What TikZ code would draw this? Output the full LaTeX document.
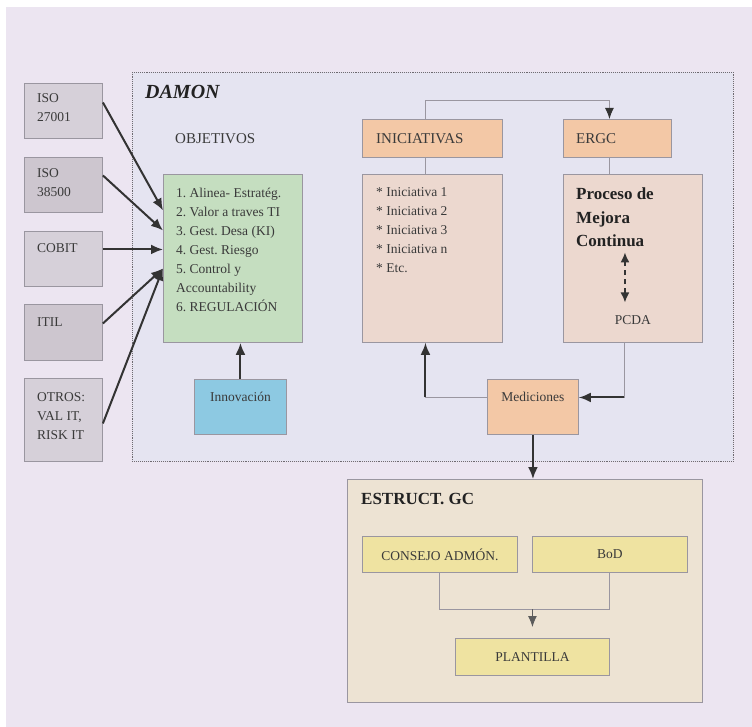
\documentclass[tikz,border=0pt]{standalone}
\usepackage{fontspec}
\setmainfont{Liberation Serif}
\usetikzlibrary{positioning,arrows.meta}

\definecolor{bgc}{HTML}{ECE5F1}
\definecolor{damonc}{HTML}{E5E4F1}
\definecolor{srcc}{HTML}{D6D0D9}
\definecolor{srcd}{HTML}{CDC6CF}
\definecolor{greenc}{HTML}{C5DEC0}
\definecolor{bluec}{HTML}{8DC9E2}
\definecolor{peachc}{HTML}{F3C8A6}
\definecolor{pinkc}{HTML}{ECD8CF}
\definecolor{beigec}{HTML}{EDE3D3}
\definecolor{yellowc}{HTML}{EFE3A1}
\definecolor{edgec}{HTML}{9A96A0}
\definecolor{dotc}{HTML}{6E6A70}
\definecolor{arrc}{HTML}{333333}
\definecolor{txtc}{HTML}{3A3A3A}
\definecolor{darkc}{HTML}{222222}

\frenchspacing

\begin{document}
\begin{tikzpicture}
  [x=1pt,y=-1pt,
   every node/.style={font=\fontsize{13.5}{19}\selectfont,text=txtc},
   box/.style={draw=edgec,line width=0.9pt,anchor=north west,inner sep=0pt},
   txt/.style={inner sep=0pt,anchor=north west,align=left},
   head/.style={font=\fontsize{15}{19}\selectfont},
   arr/.style={draw=arrc,line width=2pt,-{Latex[length=12pt,width=10pt]}},
   lnk/.style={draw=edgec,line width=1pt}]
  \useasboundingbox (0,0) rectangle (752,727);
  \fill[white] (0,0) rectangle (752,727);
  \fill[bgc] (6,7) rectangle (752,727);

  % DAMON frame
  \node[box,draw=dotc,densely dotted,fill=damonc,minimum width=601pt,minimum height=389pt] (damon) at (132,72) {};
  \node[txt,below right=13pt and 13pt of damon.north west,font=\fontsize{20}{24}\selectfont\bfseries\itshape,text=darkc] (damont) {DAMON};

  % sources
  \node[box,fill=srcc,minimum width=78pt,minimum height=55pt] (iso1) at (24,83) {};
  \node[box,fill=srcd,minimum width=78pt,minimum height=55pt] (iso2) at (24,157) {};
  \node[box,fill=srcc,minimum width=78pt,minimum height=55pt] (cobit) at (24,231) {};
  \node[box,fill=srcd,minimum width=78pt,minimum height=56pt] (itil) at (24,304) {};
  \node[box,fill=srcc,minimum width=78pt,minimum height=83pt] (otros) at (24,378) {};
  \node[txt,below right=10pt and 13pt of iso1.north west] (iso1t) {ISO\\27001};
  \node[txt,below right=11pt and 13pt of iso2.north west] (iso2t) {ISO\\38500};
  \node[txt,below right=12pt and 13pt of cobit.north west] (cobitt) {COBIT};
  \node[txt,below right=13pt and 13pt of itil.north west] (itilt) {ITIL};
  \node[txt,below right=14pt and 13pt of otros.north west] (otrost) {OTROS:\\VAL IT,\\RISK IT};

  % objetivos
  \node[txt,head] (objt) at (175,133) {OBJETIVOS};
  \node[box,fill=greenc,minimum width=139pt,minimum height=168pt] (obj) at (163,174) {};
  \node[txt,below right=14pt and 13pt of obj.north west] (objl) {1. Alinea- Estratég.\\2. Valor a traves TI\\3. Gest. Desa (KI)\\4. Gest. Riesgo\\5. Control y\\Accountability\\6. REGULACIÓN};
  \node[box,fill=bluec,minimum width=92pt,minimum height=55pt] (innov) at (194,379) {};
  \node[inner sep=0pt,anchor=north,below=13pt of innov.north] (innovt) {Innovación};

  % iniciativas / ergc
  \node[box,fill=peachc,minimum width=140pt,minimum height=38pt] (inihead) at (362,119) {};
  \node[txt,head,anchor=west,right=14pt of inihead.west] (iniheadt) {INICIATIVAS};
  \node[box,fill=peachc,minimum width=108pt,minimum height=38pt] (ergchead) at (563,119) {};
  \node[txt,head,anchor=west,right=13pt of ergchead.west] (ergcheadt) {ERGC};
  \node[box,fill=pinkc,minimum width=140pt,minimum height=168pt] (inilist) at (362,174) {};
  \node[txt,below right=13pt and 14pt of inilist.north west] (inilistt) {* Iniciativa 1\\* Iniciativa 2\\* Iniciativa 3\\* Iniciativa n\\* Etc.};
  \node[box,fill=pinkc,minimum width=139pt,minimum height=168pt] (proc) at (563,174) {};
  \node[txt,below right=14pt and 13pt of proc.north west,font=\fontsize{17}{23.5}\selectfont\bfseries,text=darkc] (proct) {Proceso de\\Mejora\\Continua};
  \node[inner sep=0pt,above=18pt of proc.south] (pcda) {PCDA};
  \node[box,fill=peachc,minimum width=91pt,minimum height=55pt] (med) at (487,379) {};
  \node[inner sep=0pt,below=13pt of med.north] (medt) {Mediciones};

  % estructura
  \node[box,fill=beigec,minimum width=355pt,minimum height=223pt] (gc) at (347,479) {};
  \node[txt,below right=14pt and 14pt of gc.north west,font=\fontsize{17}{20}\selectfont\bfseries,text=darkc] (gct) {ESTRUCT. GC};
  \node[box,fill=yellowc,minimum width=155pt,minimum height=36pt] (consejo) at (362,536) {};
  \node (consejot) at (consejo.center) {CONSEJO ADMÓN.};
  \node[box,fill=yellowc,minimum width=155pt,minimum height=36pt] (bod) at (532,536) {};
  \node (bodt) at (bod.center) {BoD};
  \node[box,fill=yellowc,minimum width=154pt,minimum height=37pt] (plant) at (455,638) {};
  \node (plantt) at (plant.center) {PLANTILLA};

  % connectors
\foreach \src/\dy/\ey in {iso1/8.5/48,iso2/9.5/28,cobit/9.5/9,itil/9/-10,otros/-3.5/-10}
    \draw[arr] ([yshift=\dy pt]\src.east) -- ([yshift=\ey pt]obj.west);
  \draw[arr] (innov.north) -- (innov.north |- obj.south);

  \draw[lnk,-{Latex[length=11pt,width=9pt,color=arrc]}] ([xshift=-7pt]inihead.north) -- ++(0,-18) -| ([xshift=-8pt]ergchead.north);
  \draw[lnk] ([xshift=-7pt]inihead.south) -- ([xshift=-7pt]inilist.north);
  \draw[lnk] ([xshift=-8pt]ergchead.south) -- ([xshift=-8pt]ergchead.south |- proc.north);
  \draw[dashed,dash pattern=on 5pt off 4pt,draw=arrc,line width=1.5pt,{Latex[length=10pt,width=9pt]}-{Latex[length=10pt,width=9pt]}]
    ([xshift=-8pt,yshift=13pt]pcda.north) -- ++(0,-50);

  \coordinate (me) at ([yshift=9.5pt]med.east);
  \coordinate (mw) at ([yshift=9.5pt]med.west);
  \draw[lnk] ([xshift=-8.5pt]proc.south) |- (me);
  \draw[arr] ([xshift=-8.5pt]proc.south |- me) -- (me);
  \draw[lnk] (mw) -| ([xshift=-7pt]inilist.south);
  \draw[arr] ([xshift=-7pt]inilist.south |- mw) -- ([xshift=-7pt]inilist.south);
  \draw[arr] (med.south) -- (med.south |- gc.north);

  \draw[lnk] (consejo.south) -- ++(0,37) -| (bod.south);
  \draw[draw=arrc!80,line width=1pt,-{Latex[length=11pt,width=9pt]}] ([yshift=29pt]plant.north) -- ([yshift=11pt]plant.north);

\end{tikzpicture}
\end{document}
